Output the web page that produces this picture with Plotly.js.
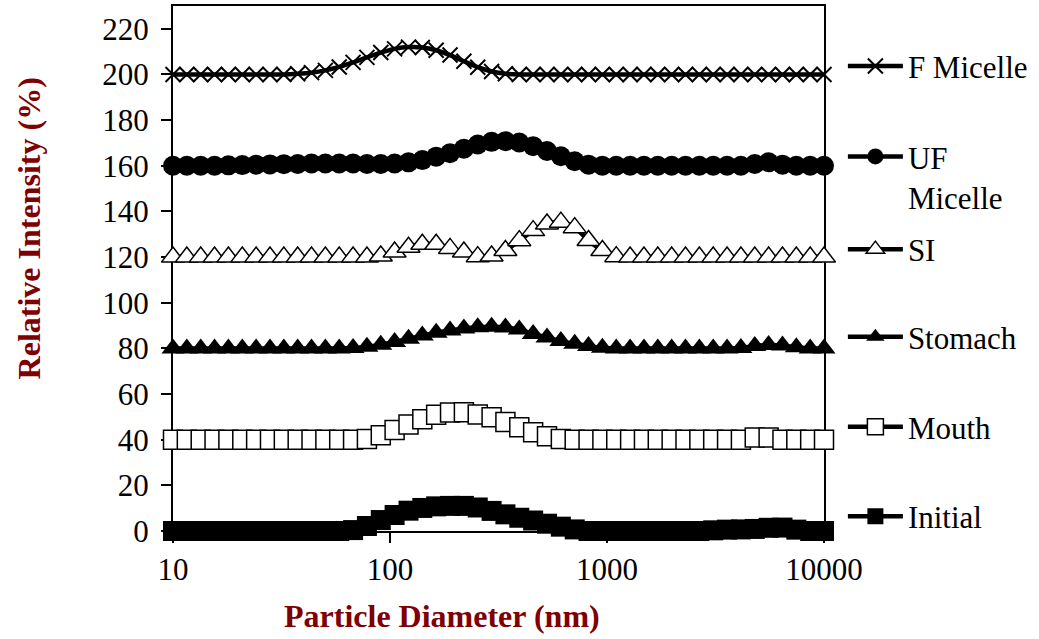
<!DOCTYPE html>
<html>
<head>
<meta charset="utf-8">
<script src="https://cdn.plot.ly/plotly-3.0.1.min.js"></script>
<style>html,body{margin:0;padding:0;background:#fff;}#chart{width:1039px;height:639px;}</style>
</head>
<body>
<div id="chart"></div>
<script>
var diameters = [10, 11.58, 13.42, 15.54, 18.00, 20.86, 24.16, 27.98, 32.41, 37.54, 43.48, 50.37, 58.34, 67.58, 78.28, 90.68, 105.0, 121.7, 140.9, 163.2, 189.1, 219.0, 253.7, 293.9, 340.3, 394.3, 456.7, 529.0, 612.8, 709.8, 822.2, 952.2, 1103, 1278, 1480, 1714, 1986, 2300, 2664, 3086, 3575, 4141, 4796, 5556, 6436, 7455, 8635, 10000];

var fMicelle = [200, 200, 200, 200, 200, 200, 200, 200, 200, 200.3, 200.8, 201.8, 203.3, 205.3, 207.5, 209.6, 211.2, 212.0, 211.8, 210.6, 208.5, 205.8, 203.2, 201.3, 200.3, 200, 200, 200, 200, 200, 200, 200, 200, 200, 200, 200, 200, 200, 200, 200, 200, 200, 200, 200, 200, 200, 200, 200];
var ufMicelle = [160, 160, 160, 160, 160.2, 160.3, 160.5, 160.6, 160.7, 160.8, 161, 161, 161, 161, 160.8, 160.8, 161, 161.5, 162.5, 164, 165.5, 167.5, 169.3, 170.5, 170.8, 170.2, 168.6, 166.5, 164.2, 162, 160.5, 160, 160, 160, 160, 160, 160, 160, 160, 160, 160, 160, 160.8, 161.5, 160.5, 160, 160, 160];
var si = [120, 120, 120, 120, 120, 120, 120, 120, 120, 120, 120, 120, 120, 120, 120, 120.5, 122.2, 124.3, 125.6, 125.6, 123.8, 122.2, 120.2, 120.5, 122.9, 127.2, 131.6, 134.5, 135.3, 132.9, 127.3, 122.9, 120.2, 120, 120, 120, 120, 120, 120, 120, 120, 120, 120, 120, 120, 120, 120, 120];
var stomach = [80, 80, 80, 80, 80, 80, 80, 80, 80, 80, 80, 80, 80, 80.2, 80.7, 81.6, 82.8, 84.2, 85.6, 86.8, 87.8, 88.7, 89.3, 89.5, 89.2, 88.3, 86.3, 84.8, 83.2, 82, 81, 80.3, 80, 80, 80, 80, 80, 80, 80, 80, 80, 80.2, 81, 81.5, 81.3, 80.5, 80, 80];
var mouth = [40, 40, 40, 40, 40, 40, 40, 40, 40, 40, 40, 40, 40, 40, 40.3, 42.0, 44.2, 46.7, 49.0, 50.9, 51.9, 52.0, 51.0, 49.8, 47.8, 45.5, 43.3, 41.5, 40.3, 40, 40, 40, 40, 40, 40, 40, 40, 40, 40, 40, 40, 40, 41.0, 41.0, 40, 40, 40, 40];
var initial = [0, 0, 0, 0, 0, 0, 0, 0, 0, 0, 0, 0, 0, 0.4, 2.2, 4.8, 7.0, 8.9, 10.1, 10.8, 11.0, 11.0, 10.3, 8.8, 7.3, 5.8, 4.6, 3.2, 1.9, 0.7, 0, 0, 0, 0, 0, 0, 0, 0, 0, 0.3, 0.6, 0.7, 0.9, 1.4, 1.5, 0.6, 0, 0];

var seriesNames = ['F Micelle', 'UF<br>Micelle', 'SI', 'Stomach', 'Mouth', 'Initial'];
var xTickVals = [10, 100, 1000, 10000];
var xTickText = ['10', '100', '1000', '10000'];
var yTickVals = [0, 20, 40, 60, 80, 100, 120, 140, 160, 180, 200, 220];
var yTickText = ['0', '20', '40', '60', '80', '100', '120', '140', '160', '180', '200', '220'];
var xTitle = 'Particle Diameter (nm)';
var yTitle = 'Relative Intensity (%)';

var FONT = 'Liberation Serif';
var TITLE_COLOR = '#7f0000';

function mk(name, y, marker, legendId) {
  return {
    type: 'scatter', mode: 'lines+markers', x: diameters, y: y, name: name,
    line: {color: '#000', width: 4.5, shape: 'spline', smoothing: 0.8},
    marker: marker, cliponaxis: false, legend: legendId
  };
}

var traces = [
  mk(seriesNames[5], initial, {symbol: 'square', size: 20, color: '#000', line: {color: '#000', width: 0}}, 'legend6'),
  mk(seriesNames[4], mouth, {symbol: 'square', size: 19, color: '#fff', line: {color: '#000', width: 1.5}}, 'legend5'),
  mk(seriesNames[3], stomach, {symbol: 'triangle-up', size: 20, color: '#000', line: {color: '#000', width: 0}}, 'legend4'),
  mk(seriesNames[2], si, {symbol: 'triangle-up', size: 20, color: '#fff', line: {color: '#000', width: 1.5}}, 'legend3'),
  mk(seriesNames[1], ufMicelle, {symbol: 'circle', size: 20, color: '#000', line: {color: '#000', width: 0}}, 'legend2'),
  mk(seriesNames[0], fMicelle, {symbol: 'x-thin', size: 15, color: '#000', line: {color: '#000', width: 2}}, 'legend')
];

function legendAt(ypx) {
  return {
    x: (847 - 173) / 655, xanchor: 'left',
    y: (531 - ypx) / 525, yanchor: 'middle',
    bgcolor: 'rgba(0,0,0,0)', borderwidth: 0,
    font: {family: FONT, size: 31, color: '#000'},
    itemwidth: 55, valign: 'top', itemclick: false, itemdoubleclick: false
  };
}

var layout = {
  width: 1039, height: 639,
  margin: {l: 173, r: 211, t: 6, b: 108, pad: 0},
  paper_bgcolor: '#fff', plot_bgcolor: '#fff',
  showlegend: true,
  font: {family: FONT, size: 31, color: '#000'},
  xaxis: {
    type: 'log', range: [1, 4], tickvals: xTickVals, ticktext: xTickText,
    showline: true, mirror: true, linecolor: '#000', linewidth: 2,
    ticks: 'outside', ticklen: 10, tickwidth: 2, tickcolor: '#000',
    showgrid: false, zeroline: false, layer: 'below traces',
    tickfont: {family: FONT, size: 31, color: '#000'}
  },
  yaxis: {
    range: [0, 230], tickvals: yTickVals, ticktext: yTickText,
    showline: true, mirror: true, linecolor: '#000', linewidth: 2,
    ticks: 'outside', ticklen: 10, tickwidth: 2, tickcolor: '#000',
    showgrid: false, zeroline: false, layer: 'below traces', ticklabelstandoff: 6,
    tickfont: {family: FONT, size: 31, color: '#000'}
  },
  legend: legendAt(66.4),
  legend2: legendAt(176.8),
  legend3: legendAt(249.5),
  legend4: legendAt(337),
  legend5: legendAt(427),
  legend6: legendAt(516.5),
  annotations: [
    {text: '<b>' + xTitle + '</b>', xref: 'paper', yref: 'paper', x: (443.5 - 173) / 655, y: (531 - 616) / 525,
     xanchor: 'center', yanchor: 'middle', showarrow: false, font: {family: FONT, size: 32, color: TITLE_COLOR}},
    {text: '<b>' + yTitle + '</b>', xref: 'paper', yref: 'paper', x: (28 - 173) / 655, y: (531 - 228.5) / 525,
     xanchor: 'center', yanchor: 'middle', textangle: -90, showarrow: false, font: {family: FONT, size: 32, color: TITLE_COLOR}}
  ]
};

Plotly.newPlot('chart', traces, layout, {staticPlot: true, displayModeBar: false});
</script>
</body>
</html>
